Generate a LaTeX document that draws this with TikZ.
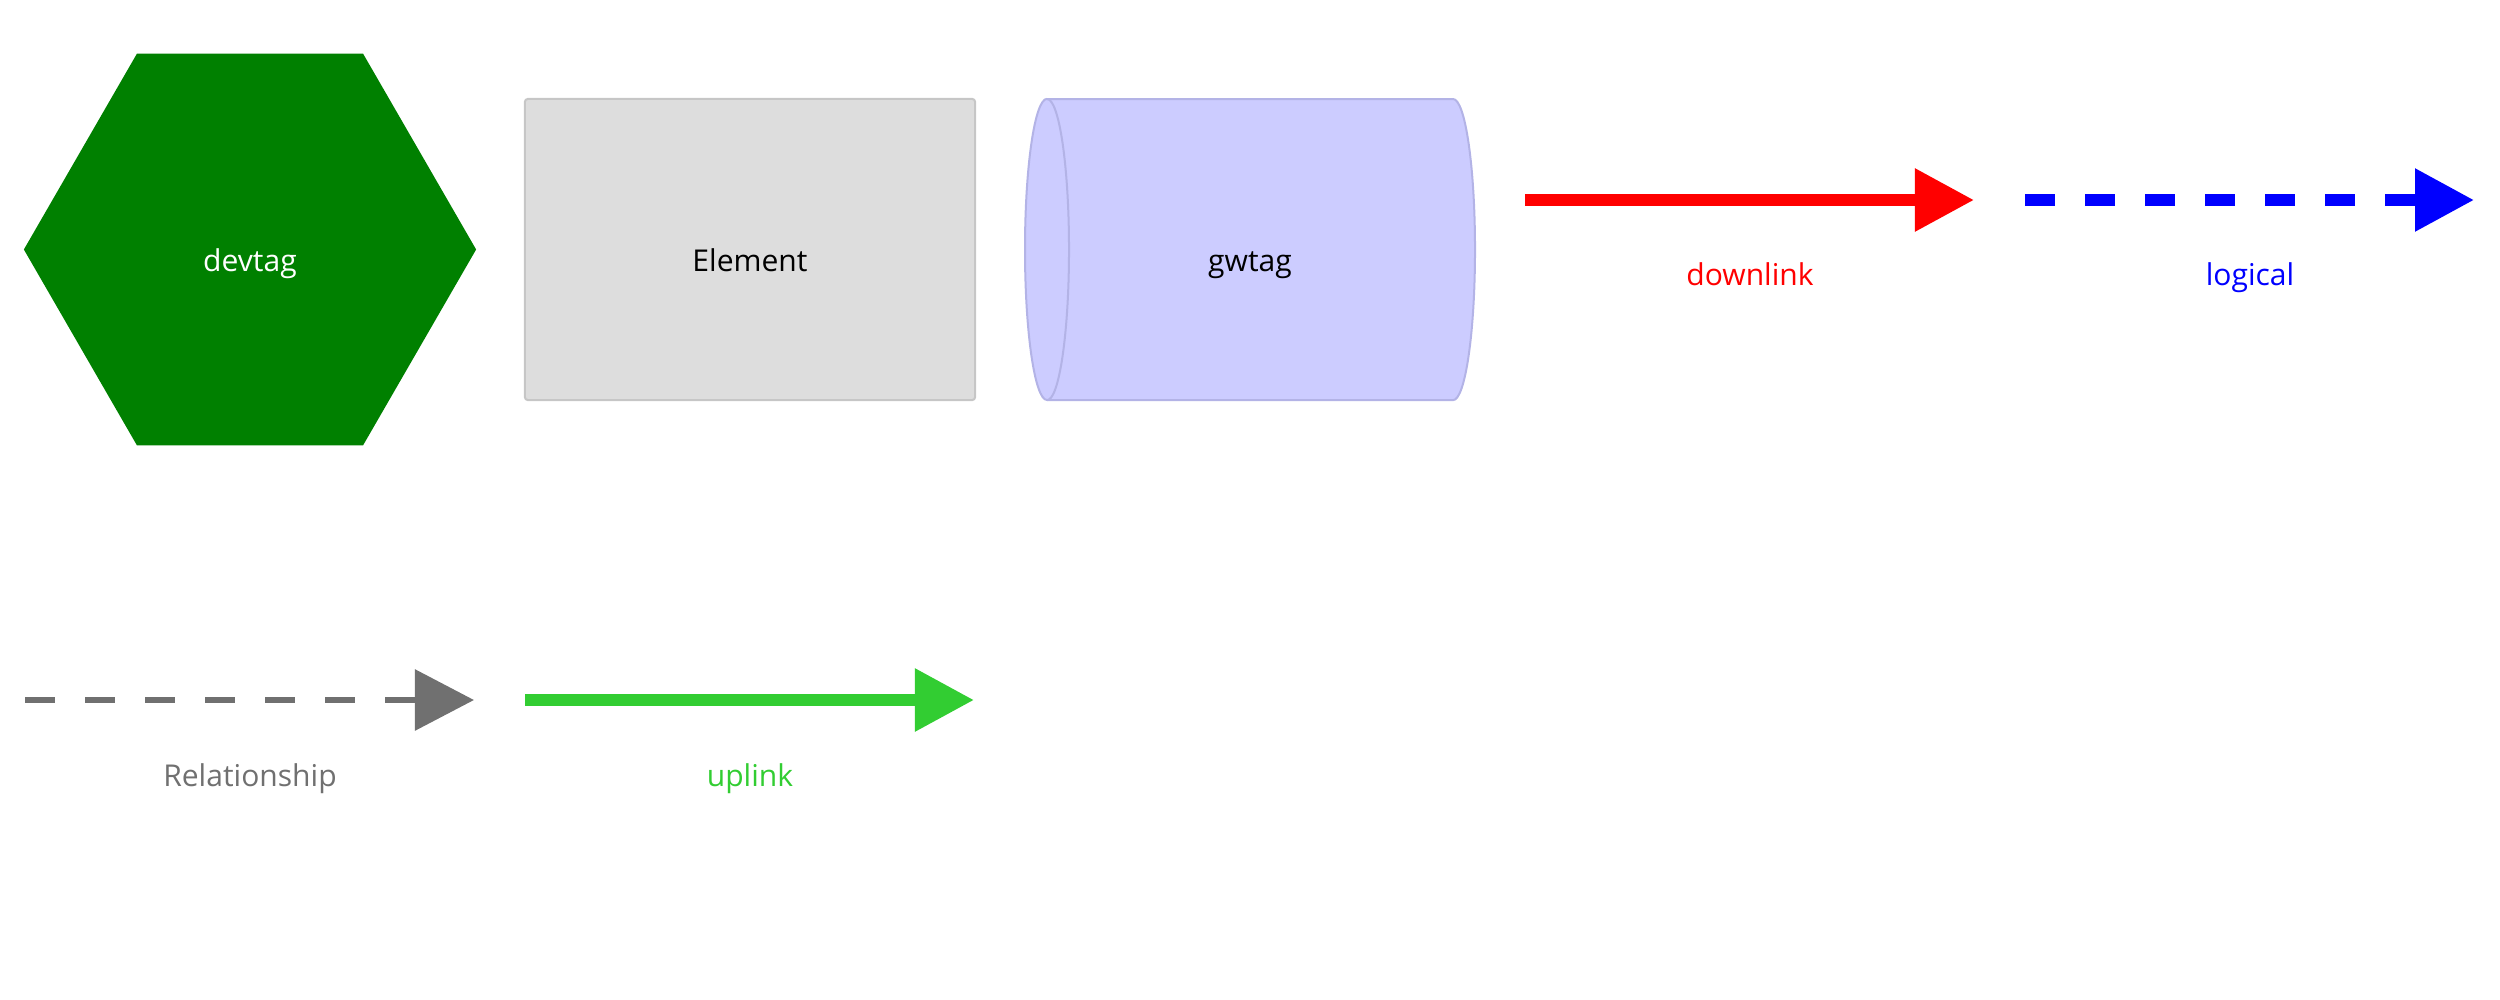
\documentclass[tikz,border=0pt]{standalone}
\usepackage{fontspec}
\setmainfont{Open Sans}
\usepackage{tikz}
\usetikzlibrary{arrows.meta}
\usetikzlibrary{shapes.geometric}

\definecolor{devgreen}{HTML}{008000}
\definecolor{elemfill}{HTML}{DDDDDD}
\definecolor{elemline}{HTML}{C6C6C6}
\definecolor{gwfill}{HTML}{CCCCFF}
\definecolor{gwline}{HTML}{B3B3E6}
\definecolor{relgray}{HTML}{707070}
\definecolor{upgreen}{HTML}{32CD32}

\begin{document}
\begin{tikzpicture}[x=0.01cm,y=0.01cm,
    lbl/.style={font=\fontsize{8.55}{10}\selectfont, anchor=base, inner sep=0pt},
    intext/.style={font=\fontsize{8.55}{10}\selectfont, text height=12.5pt, text depth=0pt, inner sep=0pt},
    link/.style={line width=0.12cm, -{Triangle[length=0.59cm,width=0.6cm]}},
    dashlink/.style={link, dash pattern=on 0.3cm off 0.3cm}]
    \useasboundingbox (0,0) rectangle (2500,-1000);

    \node[intext, regular polygon, regular polygon sides=6, minimum size=4.52cm, fill=devgreen, text=white] (devtag) at (250,-249.5) {devtag};

    \node[intext, rectangle, rounded corners=0.03cm, minimum width=4.5cm, minimum height=3.01cm, fill=elemfill, draw=elemline, line width=0.02cm] (element) at (750,-249.5) {Element};

    % cylinder
    \fill[gwfill] (1047,-99) -- (1453,-99) arc[start angle=90, end angle=-90, x radius=0.22cm, y radius=1.505cm] -- (1047,-400) arc[start angle=270, end angle=90, x radius=0.22cm, y radius=1.505cm] -- cycle;
    \draw[gwline, line width=0.02cm] (1047,-99) -- (1453,-99) arc[start angle=90, end angle=-90, x radius=0.22cm, y radius=1.505cm] -- (1047,-400) arc[start angle=270, end angle=90, x radius=0.22cm, y radius=1.505cm];
    \draw[gwline, line width=0.02cm] (1047,-99) arc[start angle=90, end angle=-90, x radius=0.22cm, y radius=1.505cm];
    \node[intext] (gwtag) at (1250,-249.5) {gwtag};

    \coordinate (dl-a) at (1525,-200);
    \coordinate (dl-b) at (1974,-200);
    \draw[link, red] (dl-a) -- (dl-b);
    \node[lbl, text=red] (downlink) at (1750,-285) {downlink};

    \coordinate (lg-a) at (2025,-200);
    \coordinate (lg-b) at (2474,-200);
    \draw[dashlink, blue] (lg-a) -- (lg-b);
    \node[lbl, text=blue] (logical) at (2250,-285) {logical};

    \coordinate (rel-a) at (25,-700);
    \coordinate (rel-b) at (474,-700);
    \draw[dashlink, line width=0.06cm, relgray] (rel-a) -- (rel-b);
    \node[lbl, text=relgray] (relationship) at (250,-786) {Relationship};

    \coordinate (up-a) at (525,-700);
    \coordinate (up-b) at (974,-700);
    \draw[link, upgreen] (up-a) -- (up-b);
    \node[lbl, text=upgreen] (uplink) at (750,-786) {uplink};
\end{tikzpicture}
\end{document}
